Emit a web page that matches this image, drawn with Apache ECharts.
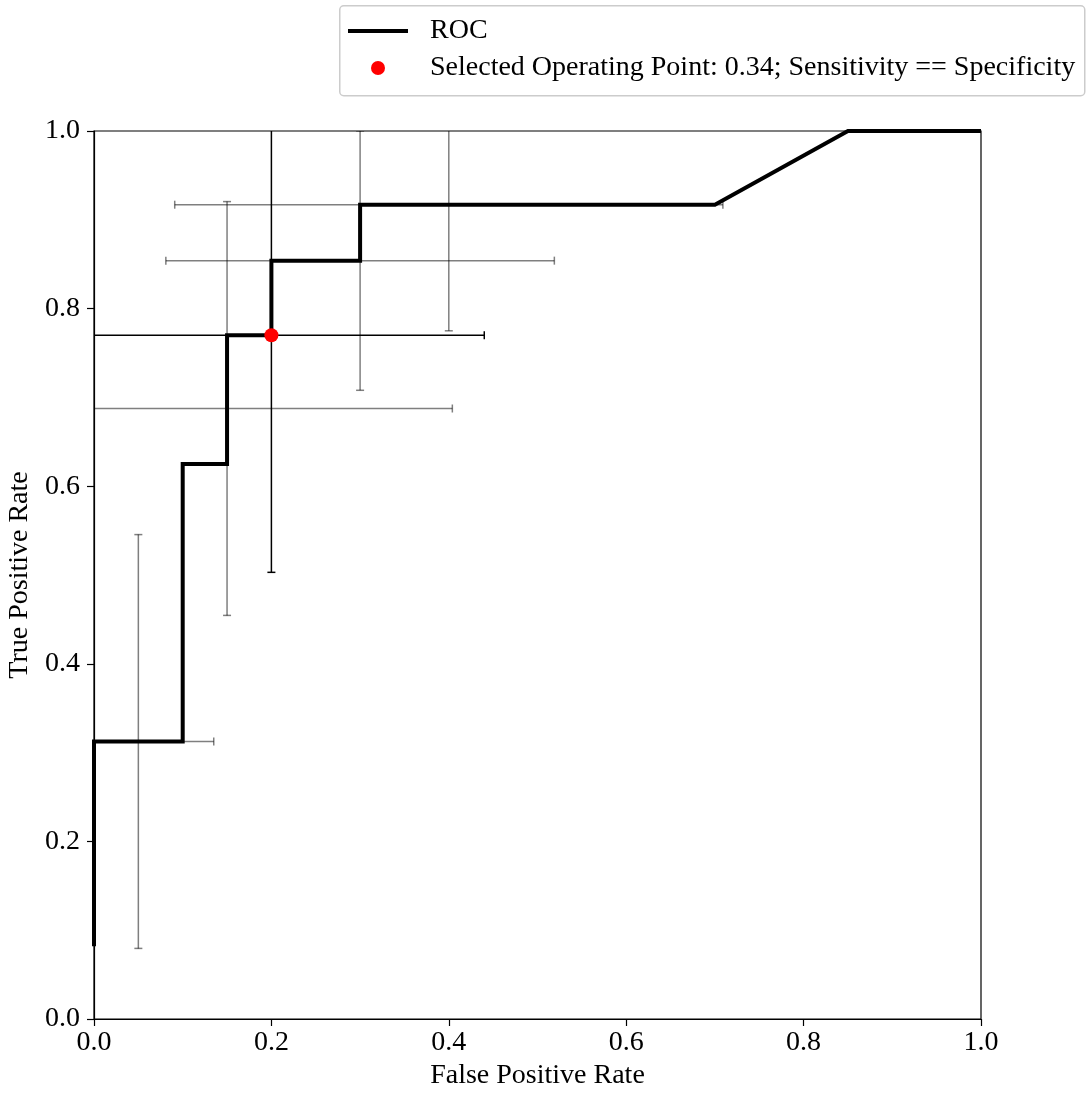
<!DOCTYPE html>
<html>
<head>
<meta charset="utf-8">
<script src="https://cdn.jsdelivr.net/npm/echarts@6/dist/echarts.min.js"></script>
<style>
  html, body { margin: 0; padding: 0; background: #fff; }
  #chart { width: 1086px; height: 1093px; }
</style>
</head>
<body>
<div id="chart"></div>
<script>
// ROC curve vertices (false positive rate, true positive rate)
const rocFPR = [0.0, 0.0, 0.1, 0.1, 0.15, 0.15, 0.2, 0.2, 0.3, 0.3, 0.7, 0.85, 1.0];
const rocTPR = [0.082, 0.3125, 0.3125, 0.625, 0.625, 0.77, 0.77, 0.854, 0.854, 0.917, 0.917, 1.0, 1.0];

// Operating points with their uncertainty (half-widths)
const opFPR  = [0.05, 0.15, 0.3, 0.4, 0.2];
const opTPR  = [0.3125, 0.6875, 0.854, 0.917, 0.77];
const opXErr = [0.085, 0.254, 0.219, 0.309, 0.24];
const opYErr = [0.233, 0.233, 0.146, 0.142, 0.267];
const opSelected = [0, 0, 0, 0, 1];

// Chosen threshold
const selectedPoint = [0.2, 0.77];
const selectedLabel = 'Selected Operating Point: 0.34; Sensitivity == Specificity';

const tickValues = [0.0, 0.2, 0.4, 0.6, 0.8, 1.0];

const FONT = "'Liberation Serif', 'Times New Roman', serif";
const FS = 28;

const rocData = rocFPR.map((x, i) => [x, rocTPR[i]]);
const errData = opFPR.map((x, i) => [x, opTPR[i], opXErr[i], opYErr[i], opSelected[i]]);

function renderErrorBar(params, api) {
  const x = api.value(0), y = api.value(1);
  const xe = api.value(2), ye = api.value(3);
  const sel = api.value(4) === 1;
  const color = sel ? '#000' : 'rgba(0,0,0,0.5)';
  const style = { stroke: color, lineWidth: 1.5 };
  const c = api.coord([x, y]);
  const l = api.coord([x - xe, y]);
  const r = api.coord([x + xe, y]);
  const t = api.coord([x, y + ye]);
  const b = api.coord([x, y - ye]);
  const cap = 4;
  const line = (x1, y1, x2, y2) => ({ type: 'line', shape: { x1, y1, x2, y2 }, style });
  return {
    type: 'group',
    children: [
      line(l[0], c[1], r[0], c[1]),
      line(c[0], t[1], c[0], b[1]),
      line(l[0], c[1] - cap, l[0], c[1] + cap),
      line(r[0], c[1] - cap, r[0], c[1] + cap),
      line(c[0] - cap, t[1], c[0] + cap, t[1]),
      line(c[0] - cap, b[1], c[0] + cap, b[1])
    ]
  };
}

const chart = echarts.init(document.getElementById('chart'), null, { renderer: 'canvas' });

function axisBase(margin) {
  return {
    type: 'value',
    min: 0,
    max: 1,
    interval: 0.2,
    nameLocation: 'middle',
    nameTextStyle: { fontFamily: FONT, fontSize: FS, color: '#000' },
    axisLine: { show: true, lineStyle: { color: '#000', width: 1.2 } },
    axisTick: { show: true, inside: false, length: 7, lineStyle: { color: '#000', width: 1.2 } },
    axisLabel: {
      fontFamily: FONT, fontSize: FS, color: '#000', margin: margin,
      formatter: v => {
        const t = tickValues.find(tv => Math.abs(tv - v) < 1e-9);
        return t === undefined ? '' : t.toFixed(1);
      }
    },
    splitLine: { show: false }
  };
}

// legend text block with extra left room between icon and label
function legendText(pad) {
  return {
    fontFamily: FONT, fontSize: FS, color: '#000',
    rich: { t: { fontFamily: FONT, fontSize: FS, color: '#000', padding: pad } }
  };
}

chart.setOption({
  animation: false,
  backgroundColor: '#fff',
  textStyle: { fontFamily: FONT },
  grid: {
    left: 94, right: 105, top: 131, bottom: 74,
    outerBoundsMode: 'none',
    containLabel: false,
    show: true, borderColor: '#000', borderWidth: 1.2, backgroundColor: 'transparent'
  },
  xAxis: Object.assign(axisBase(10), { name: 'False Positive Rate', nameGap: 42 }),
  yAxis: Object.assign(axisBase(14), { name: 'True Positive Rate', nameGap: 58 }),
  graphic: [{
    type: 'rect',
    left: 339, top: 5,
    shape: { width: 745, height: 90, r: 4 },
    style: { fill: '#fff', stroke: '#cccccc', lineWidth: 1.5 },
    z: -1
  }],
  legend: [
    {
      data: [{ name: 'ROC', icon: 'rect' }],
      left: 343, top: 12,
      itemWidth: 60, itemHeight: 4,
      formatter: name => '{t|' + name + '}',
      textStyle: legendText([0, 0, 0, 17]),
      selectedMode: false
    },
    {
      data: [{ name: selectedLabel, icon: 'circle' }],
      left: 366, top: 49,
      itemWidth: 14, itemHeight: 14,
      formatter: name => '{t|' + name + '}',
      textStyle: legendText([0, 0, 0, 40]),
      selectedMode: false
    }
  ],
  series: [
    {
      type: 'custom',
      name: 'errorbars',
      renderItem: renderErrorBar,
      data: errData,
      clip: true,
      z: 1,
      silent: true
    },
    {
      type: 'line',
      name: 'ROC',
      data: rocData,
      showSymbol: false,
      symbol: 'none',
      lineStyle: { color: '#000', width: 4, join: 'miter' },
      itemStyle: { color: '#000' },
      z: 3,
      silent: true
    },
    {
      type: 'scatter',
      name: selectedLabel,
      data: [selectedPoint],
      symbol: 'circle',
      symbolSize: 14,
      itemStyle: { color: '#ff0000', opacity: 1 },
      z: 4,
      silent: true
    }
  ]
});
</script>
</body>
</html>
